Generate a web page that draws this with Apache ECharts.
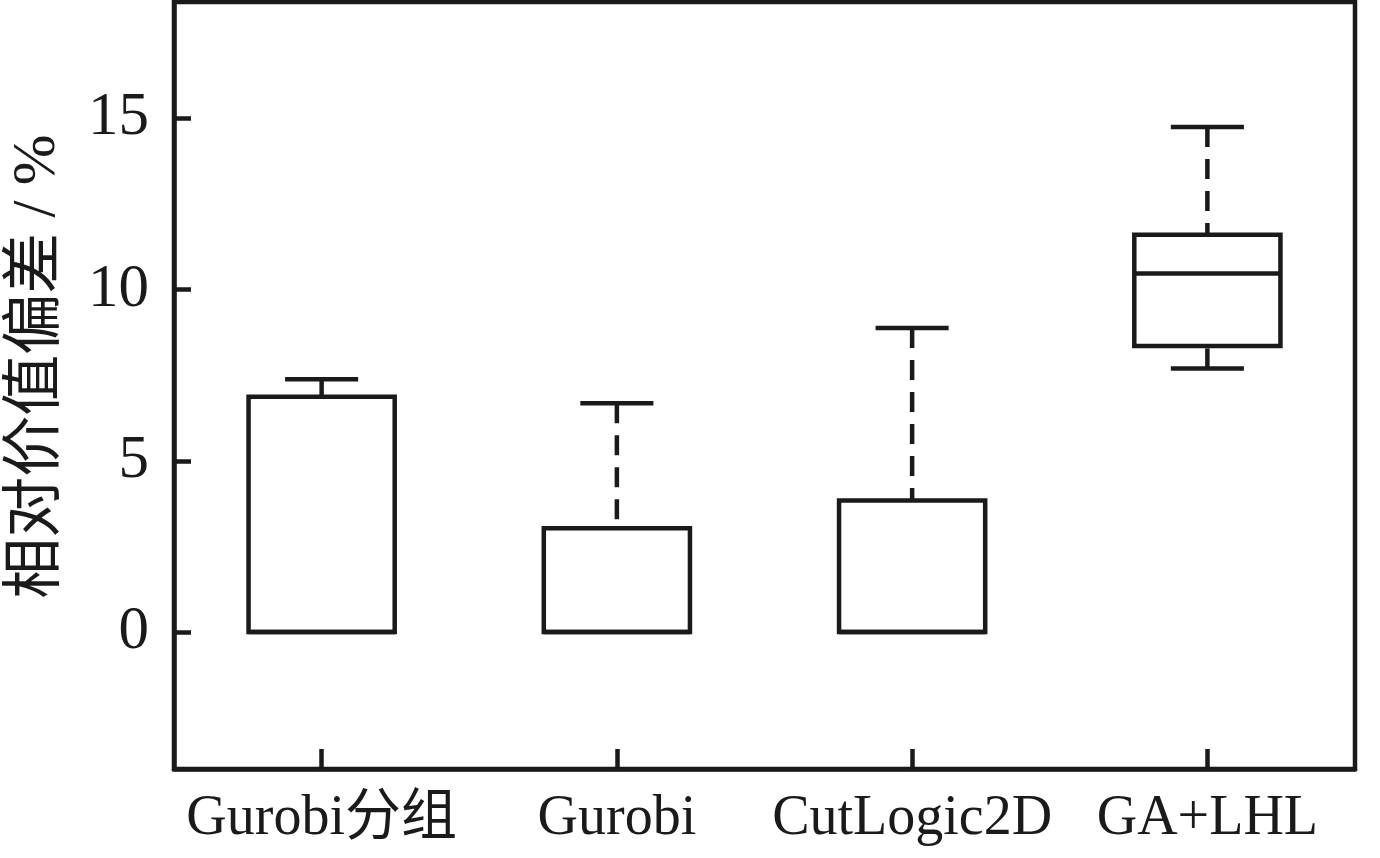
<!DOCTYPE html>
<html>
<head>
<meta charset="utf-8">
<script src="https://cdn.jsdelivr.net/npm/echarts@6/dist/echarts.min.js"></script>
<style>
html,body{margin:0;padding:0;background:#fff;}
#chart{width:1380px;height:858px;}
</style>
</head>
<body>
<div id="chart"></div>
<script>
const categories = ['Gurobi分组', 'Gurobi', 'CutLogic2D', 'GA+LHL'];
const whiskerLow = [0, 0, 0, 7.7];
const q1 = [0, 0, 0, 8.35];
const median = [0, 0, 0, 10.47];
const q3 = [6.87, 3.03, 3.84, 11.6];
const whiskerHigh = [7.38, 6.68, 8.88, 14.75];
const yTicks = [0, 5, 10, 15];

const INK = '#1a1a1a';
const FONT = "'Liberation Serif', 'Noto Sans CJK SC', serif";
const LW = 4.5;

const data = categories.map((c, i) => [i, whiskerLow[i], q1[i], median[i], q3[i], whiskerHigh[i]]);

function renderItem(params, api) {
  const idx = api.value(0);
  const lo = api.value(1), a = api.value(2), m = api.value(3), b = api.value(4), hi = api.value(5);
  const band = api.size([1, 0])[0];
  const boxW = band * 0.495;
  const capW = boxW * 0.5;
  const pLo = api.coord([idx, lo]);
  const pA = api.coord([idx, a]);
  const pM = api.coord([idx, m]);
  const pB = api.coord([idx, b]);
  const pHi = api.coord([idx, hi]);
  const x = pA[0];
  const solid = {stroke: INK, lineWidth: LW, fill: null};
  const dashed = {stroke: INK, lineWidth: LW, fill: null, lineDash: [20, 12]};
  const children = [];
  if (hi > b) {
    children.push({type: 'line', shape: {x1: x, y1: pHi[1], x2: x, y2: pB[1]}, style: dashed});
    children.push({type: 'line', shape: {x1: x - capW / 2, y1: pHi[1], x2: x + capW / 2, y2: pHi[1]}, style: solid});
  }
  if (lo < a) {
    children.push({type: 'line', shape: {x1: x, y1: pLo[1], x2: x, y2: pA[1]}, style: dashed});
    children.push({type: 'line', shape: {x1: x - capW / 2, y1: pLo[1], x2: x + capW / 2, y2: pLo[1]}, style: solid});
  }
  children.push({type: 'rect', shape: {x: x - boxW / 2, y: pB[1], width: boxW, height: pA[1] - pB[1]}, style: {stroke: INK, lineWidth: LW, fill: '#fff'}});
  children.push({type: 'line', shape: {x1: x - boxW / 2, y1: pM[1], x2: x + boxW / 2, y2: pM[1]}, style: solid});
  return {type: 'group', children: children};
}

const chart = echarts.init(document.getElementById('chart'), null, {renderer: 'canvas'});
chart.setOption({
  animation: false,
  backgroundColor: '#fff',
  grid: {left: 174, right: 25, top: 2, bottom: 89, show: true, borderColor: INK, borderWidth: LW, containLabel: false, outerBoundsMode: 'none'},
  xAxis: {
    type: 'category',
    data: categories,
    boundaryGap: true,
    axisLine: {show: true, onZero: false, lineStyle: {color: INK, width: LW}},
    axisTick: {show: true, inside: true, alignWithLabel: true, length: 20, lineStyle: {color: INK, width: LW}},
    axisLabel: {color: INK, fontFamily: FONT, fontSize: 56, margin: 22, interval: 0},
    splitLine: {show: false}
  },
  yAxis: {
    type: 'value',
    min: -4,
    max: 18.4,
    name: '相对价值偏差 / %',
    nameLocation: 'middle',
    nameGap: 106,
    nameTextStyle: {color: INK, fontFamily: FONT, fontSize: 61, padding: [0, 0, 0, 38]},
    axisLine: {show: true, onZero: false, lineStyle: {color: INK, width: LW}},
    axisTick: {show: true, inside: true, length: 17, customValues: yTicks, lineStyle: {color: INK, width: LW}},
    axisLabel: {color: INK, fontFamily: FONT, fontSize: 61, margin: 25, customValues: yTicks},
    splitLine: {show: false}
  },
  series: [{
    type: 'custom',
    renderItem: renderItem,
    encode: {x: 0, y: [1, 2, 3, 4, 5]},
    data: data
  }]
});
</script>
</body>
</html>
